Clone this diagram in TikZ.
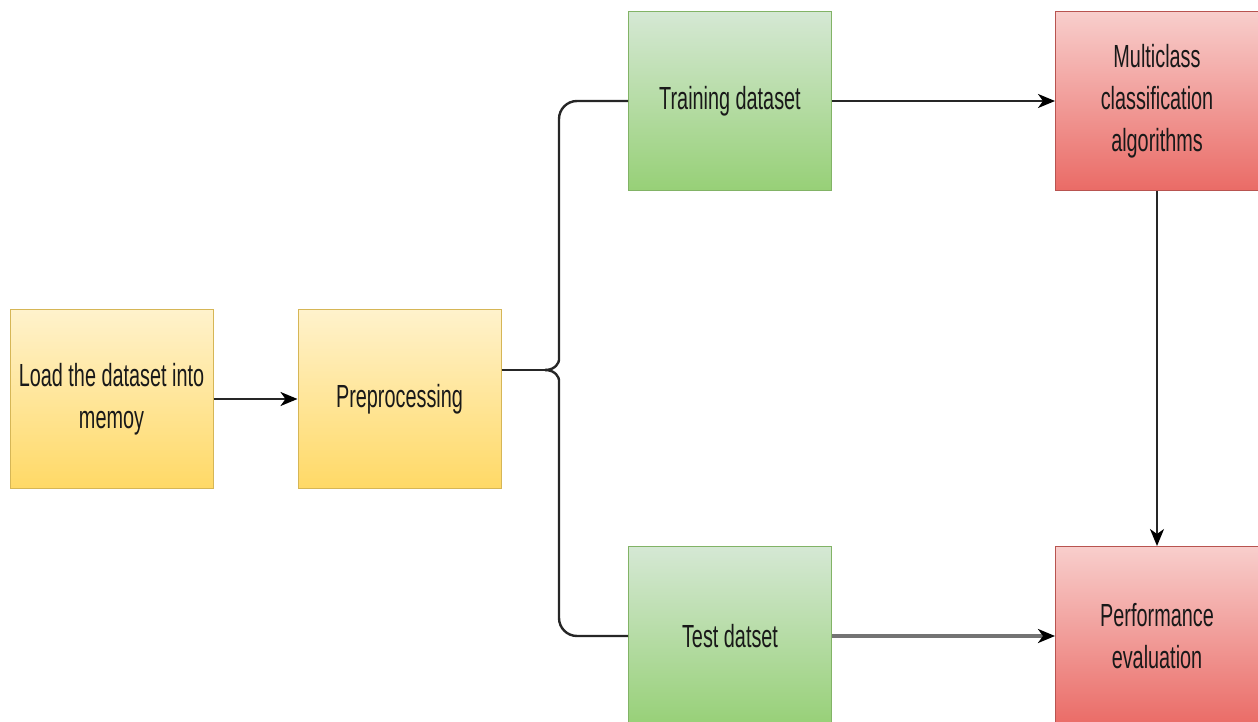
\documentclass[tikz,border=0pt]{standalone}
\usepackage{fontspec}
\setmainfont{Liberation Sans}[FakeStretch=0.62]
\usepackage{xcolor}
\usetikzlibrary{positioning,arrows.meta}
\definecolor{loadtop}{HTML}{FFF2CC}
\definecolor{loadbot}{HTML}{FFD966}
\definecolor{loadline}{HTML}{D6B656}
\definecolor{datatop}{HTML}{D5E8D4}
\definecolor{databot}{HTML}{97D077}
\definecolor{dataline}{HTML}{82B366}
\definecolor{algotop}{HTML}{F8CECC}
\definecolor{algobot}{HTML}{EA6B66}
\definecolor{algoline}{HTML}{B85450}

\begin{document}
\begin{tikzpicture}[x=1pt,y=-1pt,
  box/.style={minimum width=203pt,minimum height=179pt,inner sep=2pt,align=center,
    font=\fontsize{32}{42}\selectfont,text=black!90,line width=1pt},
  prep/.style={box,draw=loadline,top color=loadtop,bottom color=loadbot},
  split/.style={box,draw=dataline,top color=datatop,bottom color=databot},
  model/.style={box,draw=algoline,top color=algotop,bottom color=algobot},
  link/.style={black!85,line width=2.4pt},
  arr/.style={link,-{Stealth[length=17pt,width=14pt,inset=5pt,black]}}
]
\useasboundingbox (0,0) rectangle (1258,722);
\node[prep] (load) at (111.5,399) {Load the dataset into\\memoy};
\node[prep,right=84pt of load] (pre) {Preprocessing};
\node[split] (train) at (730,101) {Training dataset};
\node[split,below=355pt of train] (test) {Test datset};
\node[model,right=223pt of train] (multi) {Multiclass\\classification\\algorithms};
\node[model,right=223pt of test] (perf) {Performance\\evaluation};

% brace from preprocessing to the two datasets
\coordinate (tip) at (545,370);
\draw[link] ([yshift=29pt]pre.east) -- (tip);
\draw[link,rounded corners=18pt] (tip) .. controls (556,370) and (559,362) .. (559,342) |- (train.west);
\draw[link,rounded corners=18pt] (tip) .. controls (556,370) and (559,378) .. (559,398) |- (test.west);

\draw[arr] (load) -- (pre);
\draw[arr] (train) -- (multi);
\draw[arr,line width=1.6pt] (multi) -- (perf);
\draw[arr,draw=black!55,line width=3.2pt] (test) -- (perf);
\end{tikzpicture}
\end{document}
